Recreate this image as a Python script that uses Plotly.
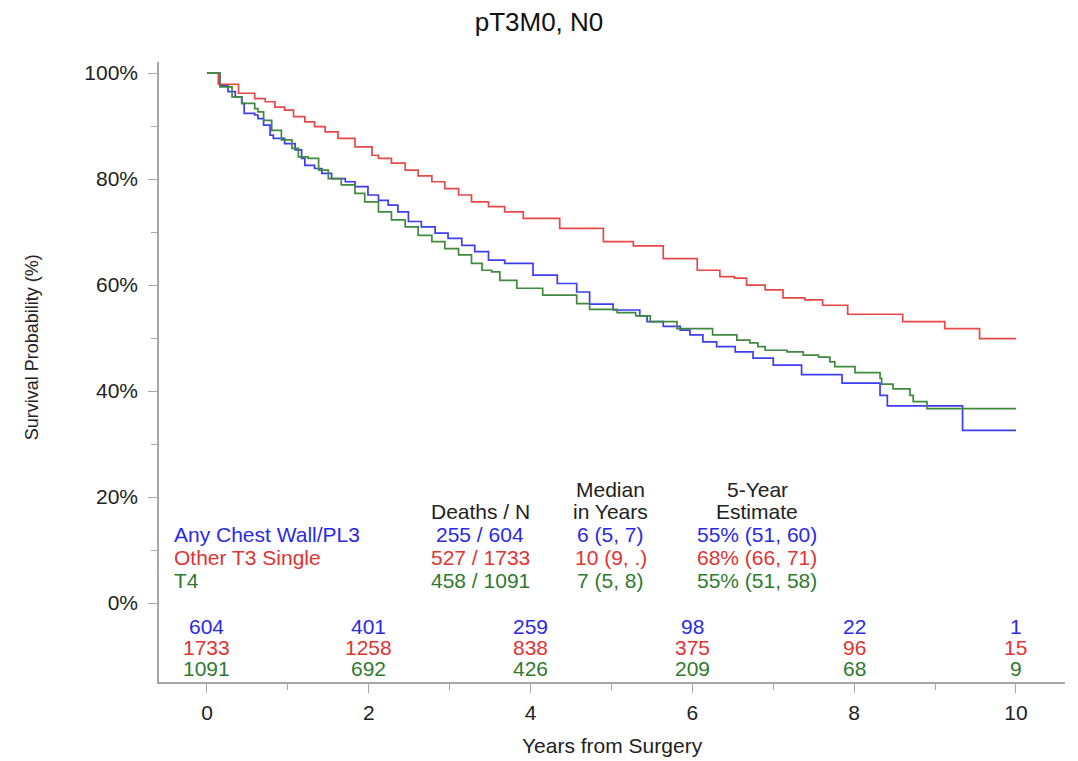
import plotly.graph_objects as go

# ---------------- data ----------------
title_text = "pT3M0, N0"
group_names = ["Any Chest Wall/PL3", "Other T3 Single", "T4"]

blue_t = [0, 0.16, 0.26, 0.35, 0.43, 0.46, 0.59, 0.63, 0.70, 0.78, 0.82, 0.96, 1.09, 1.17, 1.21,
          1.33, 1.42, 1.54, 1.71, 1.83, 1.99, 2.12, 2.24, 2.36, 2.49, 2.65, 2.82, 2.98, 3.15,
          3.31, 3.48, 3.68, 4.03, 4.33, 4.57, 4.73, 5.02, 5.35, 5.44, 5.64, 5.85, 5.97, 6.13,
          6.30, 6.53, 6.75, 7.0, 7.35, 7.85, 8.32, 8.41, 9.34, 10.0]
blue_s = [100, 97.7, 96.5, 95.5, 94.3, 92.4, 92.1, 91.4, 90.2, 88.3, 87.7, 86.7, 85.5, 83.9, 82.6,
          82.0, 81.1, 80.1, 79.5, 78.6, 77.0, 76.0, 75.1, 73.8, 72.0, 71.0, 69.8, 68.8, 67.5,
          66.3, 64.7, 64.1, 61.9, 60.3, 58.7, 56.4, 55.3, 54.2, 53.1, 52.2, 51.5, 50.6, 49.3,
          48.4, 47.4, 46.2, 44.9, 43.1, 41.5, 39.2, 37.2, 32.6, 32.6]

red_t = [0, 0.14, 0.39, 0.59, 0.72, 0.84, 0.96, 1.07, 1.21, 1.33, 1.46, 1.62, 1.83, 2.04, 2.12,
         2.28, 2.45, 2.61, 2.78, 2.94, 3.11, 3.27, 3.48, 3.68, 3.91, 4.36, 4.9, 5.27, 5.64, 6.06,
         6.34, 6.52, 6.67, 6.9, 7.12, 7.39, 7.61, 7.92, 8.6, 9.12, 9.55, 10.0]
red_s = [100, 97.9, 96.2, 95.2, 94.6, 93.6, 93.0, 91.8, 90.8, 89.9, 88.9, 87.7, 86.1, 84.5, 83.9,
         83.0, 81.7, 80.6, 79.5, 78.2, 77.0, 75.7, 74.8, 73.8, 72.6, 70.7, 68.2, 67.4, 65.0, 62.8,
         61.6, 61.3, 60.0, 59.1, 57.6, 57.2, 56.2, 54.5, 53.1, 51.8, 49.9, 49.9]

green_t = [0, 0.16, 0.31, 0.43, 0.59, 0.63, 0.70, 0.80, 0.92, 1.05, 1.13, 1.25, 1.38, 1.50, 1.66,
           1.83, 1.95, 2.12, 2.28, 2.45, 2.61, 2.78, 2.94, 3.11, 3.27, 3.40, 3.52, 3.62, 3.83,
           4.15, 4.57, 4.73, 5.07, 5.3, 5.48, 5.81, 6.25, 6.55, 6.71, 6.81, 6.90, 7.17, 7.37,
           7.56, 7.70, 7.76, 8.01, 8.32, 8.34, 8.48, 8.69, 8.73, 8.90, 10.0]
green_s = [100, 97.4, 95.5, 94.3, 93.3, 92.7, 91.1, 89.2, 87.4, 85.8, 84.2, 83.9, 81.7, 80.1, 78.9,
           77.3, 75.7, 73.8, 72.3, 71.0, 69.4, 68.2, 66.9, 65.7, 64.1, 62.8, 62.5, 60.9, 59.4,
           58.1, 56.5, 55.4, 54.8, 54.2, 53.1, 51.8, 50.6, 49.6, 49.1, 48.4, 47.7, 47.4, 46.8,
           46.4, 45.5, 44.6, 43.5, 42.4, 41.3, 40.4, 39.2, 38.0, 36.7, 36.7]

deaths_n = ["255 / 604", "527 / 1733", "458 / 1091"]
median_years = ["6 (5, 7)", "10 (9, .)", "7 (5, 8)"]
five_year = ["55% (51, 60)", "68% (66, 71)", "55% (51, 58)"]

risk_times = [0, 2, 4, 6, 8, 10]
risk_blue = [604, 401, 259, 98, 22, 1]
risk_red = [1733, 1258, 838, 375, 96, 15]
risk_green = [1091, 692, 426, 209, 68, 9]

x_ticks = [0, 2, 4, 6, 8, 10]
y_ticks = [0, 20, 40, 60, 80, 100]
y_ticklabels = ["0%", "20%", "40%", "60%", "80%", "100%"]

# ---------------- styles ----------------
FONT = "Liberation Sans, Arial, Helvetica, sans-serif"
line_colors = ["#3d3df2", "#e84848", "#3f8a3f"]
text_colors = ["#2a2ae6", "#e03434", "#2f7a2f"]
AXIS = "#a6a6a6"
FS = 21
W, H = 1070, 753  # page body has an 8px margin

fig = go.Figure()
series = [(blue_t, blue_s), (red_t, red_s), (green_t, green_s)]
for (t, s), name, col in zip(series, group_names, line_colors):
    fig.add_trace(go.Scatter(x=t, y=s, mode="lines", name=name,
                             line=dict(color=col, width=1.7, shape="hv"),
                             showlegend=False, hoverinfo="skip"))

ann = []
# summary table
col_x = {"name": -0.433, "deaths": 3.375, "median": 4.99, "est": 6.8}
hdr_y1, hdr_y2 = 21.5, 17.2
row_y = [12.95, 8.6, 4.3]
ann.append(dict(x=col_x["median"], y=hdr_y1, text="Median"))
ann.append(dict(x=col_x["est"], y=hdr_y1, text="5-Year"))
ann.append(dict(x=col_x["deaths"], y=hdr_y2, text="Deaths / N"))
ann.append(dict(x=col_x["median"], y=hdr_y2, text="in Years"))
ann.append(dict(x=col_x["est"], y=hdr_y2, text="Estimate"))
for a in ann:
    a.update(xanchor="center", font=dict(color="#222222", size=FS, family=FONT))
for i in range(3):
    c = text_colors[i]
    ann.append(dict(x=col_x["name"], y=row_y[i], text=group_names[i], xanchor="left",
                    font=dict(color=c, size=FS, family=FONT)))
    ann.append(dict(x=col_x["deaths"], y=row_y[i], text=deaths_n[i], xanchor="center",
                    font=dict(color=c, size=FS, family=FONT)))
    ann.append(dict(x=col_x["median"], y=row_y[i], text=median_years[i], xanchor="center",
                    font=dict(color=c, size=FS, family=FONT)))
    ann.append(dict(x=col_x["est"], y=row_y[i], text=five_year[i], xanchor="center",
                    font=dict(color=c, size=FS, family=FONT)))

# at-risk table
risk_rows = [(risk_blue, -4.35), (risk_red, -8.3), (risk_green, -12.3)]
for (vals, yv), c in zip(risk_rows, text_colors):
    for tx, v in zip(risk_times, vals):
        ann.append(dict(x=tx, y=yv, text=str(v), xanchor="center",
                        font=dict(color=c, size=FS, family=FONT)))

for a in ann:
    a.update(xref="x", yref="y", showarrow=False, yanchor="middle")

# axis titles
ann.append(dict(xref="paper", yref="y", x=-0.14, y=48.3, text="Survival Probability (%)",
                textangle=-90, showarrow=False, xanchor="center", yanchor="middle",
                font=dict(size=18, color="#222222", family=FONT)))
ann.append(dict(xref="paper", yref="paper", x=0.5, y=-0.103, text="Years from Surgery",
                showarrow=False, xanchor="center", yanchor="middle",
                font=dict(size=21, color="#222222", family=FONT)))

fig.update_layout(
    width=W, height=H,
    margin=dict(l=151, r=13, t=54, b=79),
    paper_bgcolor="white", plot_bgcolor="white",
    title=dict(text=title_text, x=531 / W, xref="container", y=1 - 14 / H, yref="container",
               xanchor="center", yanchor="middle",
               font=dict(size=26, color="#111111", family=FONT)),
    annotations=ann,
    font=dict(family=FONT),
)

fig.update_xaxes(range=[-0.593, 10.606], showgrid=False, zeroline=False,
                 showline=True, linecolor=AXIS, linewidth=1.5,
                 tickmode="array", tickvals=x_ticks, ticktext=[str(v) for v in x_ticks],
                 ticks="outside", ticklen=9, tickcolor=AXIS, tickwidth=1.3,
                 ticklabelstandoff=2,
                 minor=dict(tickvals=[1, 3, 5, 7, 9], ticks="outside", ticklen=6,
                            tickcolor=AXIS, tickwidth=1.3),
                 tickfont=dict(size=21, color="#222222", family=FONT))
fig.update_yaxes(range=[-14.9, 102.1], showgrid=False, zeroline=False,
                 showline=True, linecolor=AXIS, linewidth=1.5,
                 tickmode="array", tickvals=y_ticks, ticktext=y_ticklabels,
                 ticks="outside", ticklen=9, tickcolor=AXIS, tickwidth=1.3,
                 ticklabelstandoff=6,
                 minor=dict(tickvals=[10, 30, 50, 70, 90], ticks="outside", ticklen=6,
                            tickcolor=AXIS, tickwidth=1.3),
                 tickfont=dict(size=21, color="#222222", family=FONT))

fig.write_html("out.html")
